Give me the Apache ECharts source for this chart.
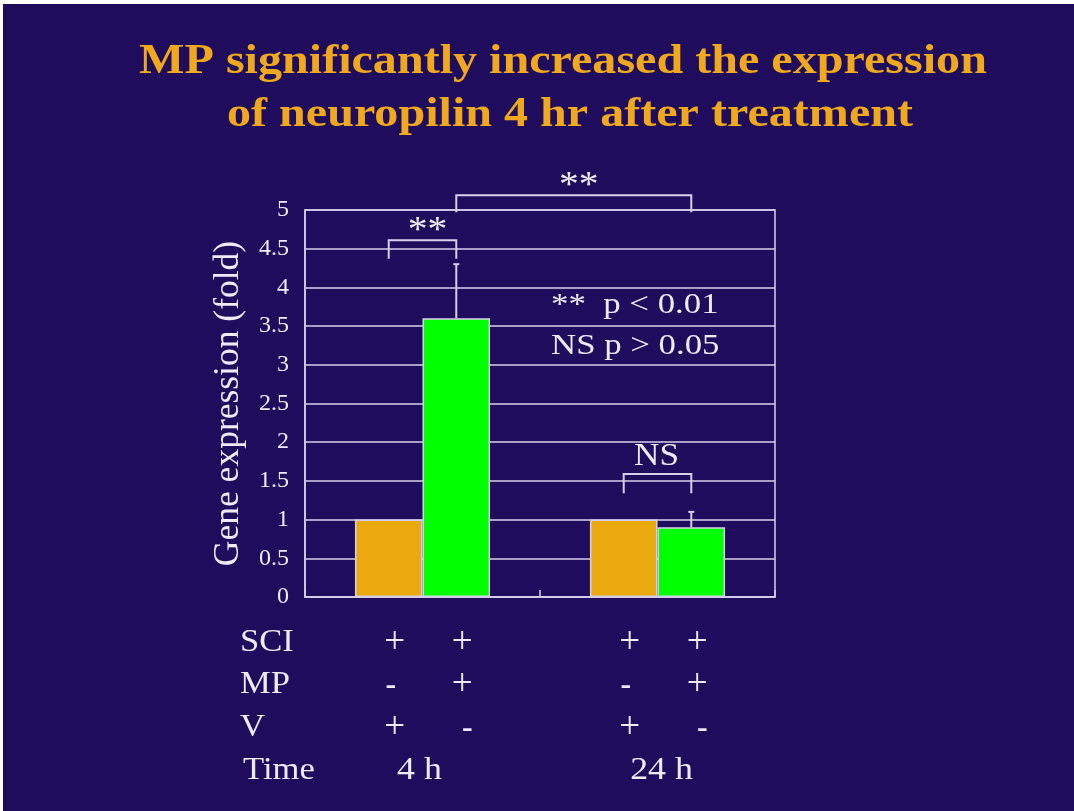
<!DOCTYPE html>
<html><head><meta charset="utf-8">
<script src="https://cdn.jsdelivr.net/npm/echarts@6/dist/echarts.min.js"></script>
<style>html,body{margin:0;padding:0;background:#fff;}#c{width:1074px;height:811px;}</style>
</head><body><div id="c"></div>
<script>
// ---- data ----
const titleLines = ['MP significantly increased the expression', 'of neuropilin 4 hr after treatment'];
const categories = ['4 h', '24 h'];
const vehicleMeans = [1.0, 1.0];
const mpMeans = [3.6, 0.9];
const mpErrors = [0.7, 0.2];
const yAxisName = 'Gene expression (fold)';
const rowLabels = ['SCI', 'MP', 'V', 'Time'];
const sciSigns = ['+', '+', '+', '+'];
const mpSigns = ['-', '+', '-', '+'];
const vSigns = ['+', '-', '+', '-'];
const timeLabels = ['4 h', '24 h'];
const notes = ['**  p < 0.01', 'NS p > 0.05'];
// comparisons: [category, side(-1 vehicle / +1 MP)] pairs, bracket level & leg bottom (fold), label
const comparisons = [
  { from: [0, -1], to: [0, 1], level: 4.61, leg: 4.37, label: '**' },
  { from: [0, 1], to: [1, 1], level: 5.19, leg: 4.97, label: '**' },
  { from: [1, -1], to: [1, 1], level: 1.59, leg: 1.34, label: 'NS' }
];

// ---- style ----
const BG = '#200c5c';
const LINE = '#d6cfea';
const TEXT = '#eeeaf6';
const GOLD = '#f0a81c';
const ORANGE = '#e9a90f';
const GREEN = '#00ff00';
const SERIF = '"Liberation Serif", "Times New Roman", serif';
const CAT_GAP = 0.425;

const chart = echarts.init(document.getElementById('c'));

function barOffset(band) { return band * (1 - CAT_GAP) / 4; }

const option = {
  backgroundColor: BG,
  animation: false,
  grid: { left: 305, top: 210, right: 299, bottom: 214, show: true, borderColor: LINE, borderWidth: 1.5, backgroundColor: 'transparent' },
  xAxis: {
    type: 'category', data: categories,
    axisLabel: { show: false },
    axisLine: { lineStyle: { color: LINE, width: 1.5 } },
    axisTick: { show: true, inside: true, length: 7, lineStyle: { color: LINE, width: 1.5 } },
    splitLine: { show: false }
  },
  yAxis: {
    type: 'value', min: 0, max: 5, interval: 0.5,
    name: yAxisName, nameLocation: 'middle', nameGap: 58,
    nameTextStyle: { color: TEXT, fontFamily: SERIF, fontSize: 35.5 },
    axisLine: { show: true, lineStyle: { color: LINE, width: 1.5 } },
    axisTick: { show: false },
    axisLabel: { color: TEXT, fontFamily: SERIF, fontSize: 24, margin: 16 },
    splitLine: { show: true, lineStyle: { color: LINE, width: 1.5 } }
  },
  series: [
    {
      type: 'bar', name: 'Vehicle', data: vehicleMeans, barGap: '0%', barCategoryGap: (CAT_GAP * 100) + '%',
      itemStyle: { color: ORANGE, borderColor: LINE, borderWidth: 1.5 }, z: 3
    },
    {
      type: 'bar', name: 'MP', data: mpMeans, barGap: '0%', barCategoryGap: (CAT_GAP * 100) + '%',
      itemStyle: { color: GREEN, borderColor: LINE, borderWidth: 1.5 }, z: 3
    },
    {
      type: 'custom', name: 'error', z: 4, silent: true,
      data: categories.map((c, i) => [i, mpMeans[i], mpMeans[i] + mpErrors[i]]),
      renderItem(params, api) {
        const band = api.size([1, 0])[0];
        const off = barOffset(band);
        const b = api.coord([api.value(0), api.value(1)]);
        const t = api.coord([api.value(0), api.value(2)]);
        const x = b[0] + off;
        return { type: 'group', children: [
          { type: 'line', shape: { x1: x, y1: b[1], x2: x, y2: t[1] }, style: { stroke: LINE, lineWidth: 2 } },
          { type: 'line', shape: { x1: x - 3, y1: t[1], x2: x + 3, y2: t[1] }, style: { stroke: LINE, lineWidth: 2 } }
        ] };
      }
    },
    {
      type: 'custom', name: 'brackets', z: 4, silent: true, clip: false,
      data: comparisons.map(c => [c.from[0], c.level]),
      renderItem(params, api) {
        const c = comparisons[params.dataIndex];
        const band = api.size([1, 0])[0];
        const off = barOffset(band);
        const x1 = api.coord([c.from[0], 0])[0] + c.from[1] * off;
        const x2 = api.coord([c.to[0], 0])[0] + c.to[1] * off;
        const yTop = api.coord([0, c.level])[1];
        const yLeg = api.coord([0, c.leg])[1];
        const isNS = c.label === 'NS';
        return { type: 'group', children: [
          { type: 'polyline', shape: { points: [[x1, yLeg], [x1, yTop], [x2, yTop], [x2, yLeg]] }, style: { stroke: LINE, lineWidth: 2, fill: null } },
          { type: 'text', x: (x1 + x2) / 2 + (isNS ? -1 : 5), y: yTop - (isNS ? 17 : 9), scaleX: 1.1,
            style: { text: c.label, fill: TEXT, font: (isNS ? '32px ' : '36px ') + SERIF, align: 'center', verticalAlign: 'middle' } }
        ] };
      }
    }
  ],
  graphic: [
    { type: 'rect', id: 'bt', shape: { x: 0, y: 0, width: 1074, height: 4 }, style: { fill: '#ffffff' }, z: 100 },
    { type: 'rect', id: 'bl', shape: { x: 0, y: 0, width: 3, height: 811 }, style: { fill: '#ffffff' }, z: 100 },
    { type: 'text', id: 't1', x: 563, y: 62, scaleX: 1.145, style: { text: titleLines[0], fill: GOLD, font: 'bold 42px ' + SERIF, align: 'center', verticalAlign: 'middle' } },
    { type: 'text', id: 't2', x: 570, y: 115, scaleX: 1.145, style: { text: titleLines[1], fill: GOLD, font: 'bold 42px ' + SERIF, align: 'center', verticalAlign: 'middle' } },
    { type: 'text', id: 'n1', x: 551, y: 305, scaleX: 1.16, style: { text: notes[0], fill: TEXT, font: '30px ' + SERIF, align: 'left', verticalAlign: 'middle' } },
    { type: 'text', id: 'n2', x: 551, y: 346, scaleX: 1.16, style: { text: notes[1], fill: TEXT, font: '30px ' + SERIF, align: 'left', verticalAlign: 'middle' } }
  ]
};
chart.setOption(option);

// ---- condition table under the axis, aligned to the bars ----
const c0 = chart.convertToPixel({ xAxisIndex: 0 }, 0);
const c1 = chart.convertToPixel({ xAxisIndex: 0 }, 1);
const band = c1 - c0;
const off = barOffset(band);
const colX = [c0 - off, c0 + off, c1 - off, c1 + off].map(x => x + 6);
const rowY = [643, 685, 728, 771];
const signRows = [sciSigns, mpSigns, vSigns];
const extra = [];
rowLabels.forEach((lab, r) => {
  extra.push({ type: 'text', id: 'rl' + r, x: r === 3 ? 243 : 240, y: rowY[r], scaleX: 1.08, style: { text: lab, fill: TEXT, font: '32px ' + SERIF, align: 'left', verticalAlign: 'middle' } });
});
signRows.forEach((row, r) => {
  row.forEach((s, k) => {
    const minus = s === '-';
    const dx = minus ? (k % 2 === 0 ? -4 : 5) : 0;
    extra.push({ type: 'text', id: 's' + r + '_' + k, x: colX[k] + dx, y: rowY[r] + (minus ? 1 : 0),
      style: { text: s, fill: TEXT, font: (minus ? 'bold 32px ' : '37px ') + SERIF, align: 'center', verticalAlign: 'middle' } });
  });
});
timeLabels.forEach((t, i) => {
  const cx = i === 0 ? c0 : c1;
  extra.push({ type: 'text', id: 'tm' + i, x: cx + (i === 0 ? -3 : 4), y: rowY[3], scaleX: 1.12, style: { text: t, fill: TEXT, font: '32px ' + SERIF, align: 'center', verticalAlign: 'middle' } });
});
chart.setOption({ graphic: extra });
</script></body></html>
